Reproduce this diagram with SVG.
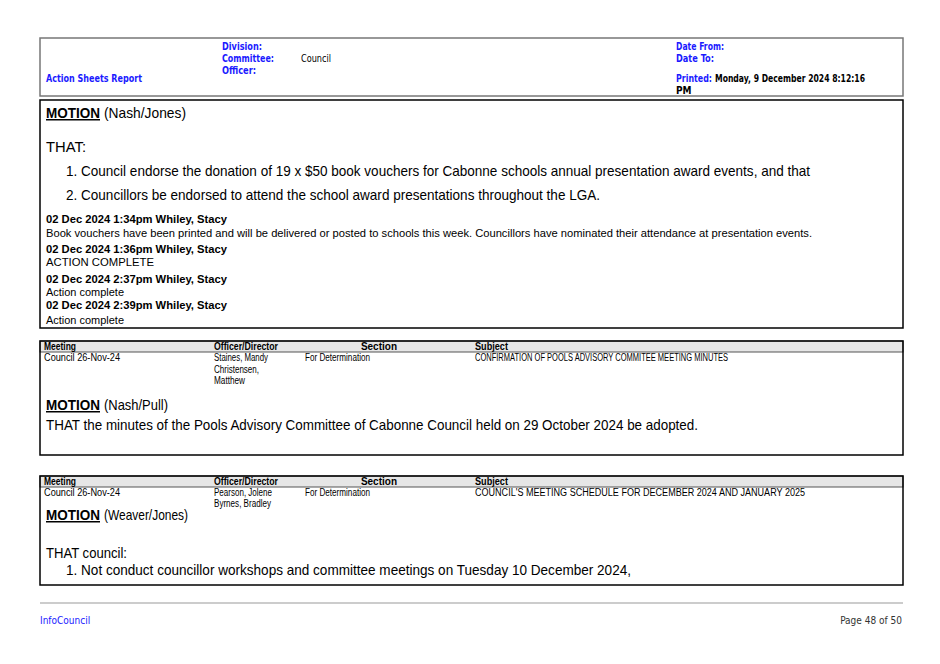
<svg xmlns="http://www.w3.org/2000/svg" width="940" height="664" viewBox="0 0 940 664">
<style>
text{font-family:"DejaVu Sans Condensed","Liberation Sans",sans-serif}
.hb{fill:#1a1aff;font-weight:bold;font-size:10px}
.hk{fill:#000;font-size:10px}
.big{font-family:"Liberation Sans",Arial,sans-serif;font-size:15px;fill:#000}
.mo{font-family:"Liberation Sans",Arial,sans-serif;font-size:15px;fill:#000;font-weight:bold;text-decoration:underline}
.sm{font-family:"Liberation Sans",Arial,sans-serif;font-size:11px;fill:#000}
.smb{font-family:"Liberation Sans",Arial,sans-serif;font-size:11px;font-weight:bold;fill:#000}
.th{font-family:"Liberation Sans",Arial,sans-serif;font-size:10px;font-weight:bold;fill:#000}
.td{font-family:"Liberation Sans",Arial,sans-serif;font-size:10px;fill:#000}
.box{fill:none;stroke:#000;stroke-width:1.5}
.hdr{fill:#e6e6e6;stroke:#555;stroke-width:1}
</style>
<rect width="940" height="664" fill="#fff"/>
<g id="header">
<rect x="40" y="38" width="863" height="58" fill="none" stroke="#777" stroke-width="1.5"/>
<text class="hb" x="222" y="50" textLength="40" lengthAdjust="spacingAndGlyphs">Division:</text>
<text class="hb" x="222" y="62" textLength="52" lengthAdjust="spacingAndGlyphs">Committee:</text>
<text class="hk" x="301" y="62" textLength="30" lengthAdjust="spacingAndGlyphs">Council</text>
<text class="hb" x="222" y="74" textLength="34" lengthAdjust="spacingAndGlyphs">Officer:</text>
<text class="hb" x="46" y="82" textLength="96" lengthAdjust="spacingAndGlyphs">Action Sheets Report</text>
<text class="hb" x="676" y="50" textLength="48" lengthAdjust="spacingAndGlyphs">Date From:</text>
<text class="hb" x="676" y="62" textLength="38" lengthAdjust="spacingAndGlyphs">Date To:</text>
<text class="hb" x="676" y="82" textLength="36" lengthAdjust="spacingAndGlyphs">Printed:</text>
<text class="hb" x="715" y="82" style="fill:#000" textLength="150" lengthAdjust="spacingAndGlyphs">Monday, 9 December 2024  8:12:16</text>
<text class="hb" x="676" y="94" style="fill:#000">PM</text>
</g>
<g id="item1">
<rect class="box" x="40" y="100" width="863" height="228"/>
<text class="mo" x="46" y="118" textLength="54" lengthAdjust="spacingAndGlyphs">MOTION</text>
<text class="big" x="104" y="118" textLength="82" lengthAdjust="spacingAndGlyphs">(Nash/Jones)</text>
<text class="big" x="46" y="152" textLength="40" lengthAdjust="spacingAndGlyphs">THAT:</text>
<text class="big" x="66" y="176" textLength="744" lengthAdjust="spacingAndGlyphs">1.  Council endorse the donation of 19 x $50 book vouchers for Cabonne schools annual presentation award events, and that</text>
<text class="big" x="66" y="200" textLength="534" lengthAdjust="spacingAndGlyphs">2.  Councillors be endorsed to attend the school award presentations throughout the LGA.</text>
<text class="smb" x="46" y="223" textLength="181" lengthAdjust="spacingAndGlyphs">02 Dec 2024 1:34pm Whiley, Stacy</text>
<text class="sm" x="46" y="237" textLength="766" lengthAdjust="spacingAndGlyphs">Book vouchers have been printed and will be delivered or posted to schools this week. Councillors have nominated their attendance at presentation events.</text>
<text class="smb" x="46" y="253" textLength="181" lengthAdjust="spacingAndGlyphs">02 Dec 2024 1:36pm Whiley, Stacy</text>
<text class="sm" x="46" y="266" textLength="108" lengthAdjust="spacingAndGlyphs">ACTION COMPLETE</text>
<text class="smb" x="46" y="283" textLength="181" lengthAdjust="spacingAndGlyphs">02 Dec 2024 2:37pm Whiley, Stacy</text>
<text class="sm" x="46" y="296" textLength="78" lengthAdjust="spacingAndGlyphs">Action complete</text>
<text class="smb" x="46" y="309" textLength="181" lengthAdjust="spacingAndGlyphs">02 Dec 2024 2:39pm Whiley, Stacy</text>
<text class="sm" x="46" y="324" textLength="78" lengthAdjust="spacingAndGlyphs">Action complete</text>
</g>
<g id="item2">
<rect class="hdr" x="40" y="341" width="863" height="11"/>
<rect class="box" x="40" y="341" width="863" height="114"/>
<text class="th" x="44" y="350" textLength="32" lengthAdjust="spacingAndGlyphs">Meeting</text>
<text class="th" x="214" y="350" textLength="64" lengthAdjust="spacingAndGlyphs">Officer/Director</text>
<text class="th" x="397" y="350" text-anchor="end">Section</text>
<text class="th" x="475" y="350" textLength="33" lengthAdjust="spacingAndGlyphs">Subject</text>
<text class="td" x="44" y="361" textLength="76" lengthAdjust="spacingAndGlyphs">Council 26-Nov-24</text>
<text class="td" x="214" y="361" textLength="54" lengthAdjust="spacingAndGlyphs">Staines, Mandy</text>
<text class="td" x="214" y="373" textLength="45" lengthAdjust="spacingAndGlyphs">Christensen,</text>
<text class="td" x="214" y="384" textLength="31" lengthAdjust="spacingAndGlyphs">Matthew</text>
<text class="td" x="305" y="361" textLength="65" lengthAdjust="spacingAndGlyphs">For Determination</text>
<text class="td" x="475" y="361" textLength="253" lengthAdjust="spacingAndGlyphs">CONFIRMATION OF POOLS ADVISORY COMMITEE MEETING MINUTES</text>
<text class="mo" x="46" y="410" textLength="54" lengthAdjust="spacingAndGlyphs">MOTION</text>
<text class="big" x="104" y="410" textLength="64" lengthAdjust="spacingAndGlyphs">(Nash/Pull)</text>
<text class="big" x="46" y="430" textLength="652" lengthAdjust="spacingAndGlyphs">THAT the minutes of the Pools Advisory Committee of Cabonne Council held on 29 October 2024 be adopted.</text>
</g>
<g id="item3">
<rect class="hdr" x="40" y="476" width="863" height="11"/>
<rect class="box" x="40" y="476" width="863" height="109"/>
<text class="th" x="44" y="485" textLength="32" lengthAdjust="spacingAndGlyphs">Meeting</text>
<text class="th" x="214" y="485" textLength="64" lengthAdjust="spacingAndGlyphs">Officer/Director</text>
<text class="th" x="397" y="485" text-anchor="end">Section</text>
<text class="th" x="475" y="485" textLength="33" lengthAdjust="spacingAndGlyphs">Subject</text>
<text class="td" x="44" y="496" textLength="76" lengthAdjust="spacingAndGlyphs">Council 26-Nov-24</text>
<text class="td" x="214" y="496" textLength="58" lengthAdjust="spacingAndGlyphs">Pearson, Jolene</text>
<text class="td" x="214" y="507" textLength="57" lengthAdjust="spacingAndGlyphs">Byrnes, Bradley</text>
<text class="td" x="305" y="496" textLength="65" lengthAdjust="spacingAndGlyphs">For Determination</text>
<text class="td" x="475" y="496" textLength="330" lengthAdjust="spacingAndGlyphs">COUNCIL'S MEETING SCHEDULE FOR DECEMBER 2024 AND JANUARY 2025</text>
<text class="mo" x="46" y="520" textLength="54" lengthAdjust="spacingAndGlyphs">MOTION</text>
<text class="big" x="104" y="520" textLength="84" lengthAdjust="spacingAndGlyphs">(Weaver/Jones)</text>
<text class="big" x="46" y="558" textLength="81" lengthAdjust="spacingAndGlyphs">THAT council:</text>
<text class="big" x="66" y="575" textLength="565" lengthAdjust="spacingAndGlyphs">1.  Not conduct councillor workshops and committee meetings on Tuesday 10 December 2024,</text>
</g>
<g id="footer">
<line x1="40" y1="603" x2="903" y2="603" stroke="#999" stroke-width="1"/>
<text x="40" y="624" font-size="10" fill="#1a1aff">InfoCouncil</text>
<text x="902" y="624" font-size="10" fill="#333" text-anchor="end">Page 48 of 50</text>
</g>
</svg>
